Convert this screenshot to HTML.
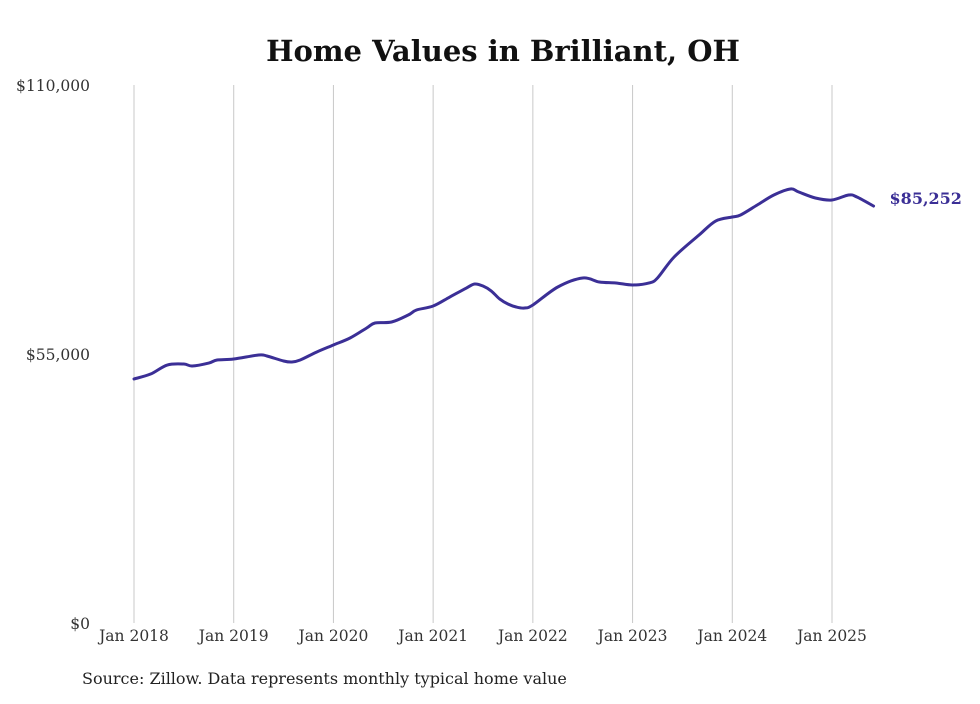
<!DOCTYPE html>
<html><head><meta charset="utf-8"><style>
body{margin:0;background:#fff;}
svg text{font-family:"DejaVu Serif","Liberation Serif",serif;}
</style></head><body>
<svg id="chart" width="980" height="699" viewBox="0 0 980 699">
<rect width="980" height="699" fill="#fff"/>
<text x="503" y="61" text-anchor="middle" font-size="29" font-weight="bold" fill="#111">Home Values in Brilliant, OH</text>
<g id="grid"></g><g id="yticks"></g><g id="xticks"></g>
<path id="line" fill="none" stroke="#3b2f96" stroke-width="3" stroke-linejoin="round" stroke-linecap="round"/>
<text id="endlabel" font-size="16" font-weight="bold" fill="#3b2f96"></text>
<text x="82" y="684" font-size="16" fill="#222">Source: Zillow. Data represents monthly typical home value</text>
</svg>
<script>
const months=[0,2,4,6,7,9,10,12,15,16,18,19,20,22,24,26,28,29,31,33,34,36,38,40,41,42,43,44,45,46,47,48,51,54,56,58,60,62,63,65,68,70,72,73,75,77,79,80,82,84,86,87,89];
const values=[49900,50900,52750,52950,52550,53150,53770,53980,54800,54590,53570,53360,53770,55410,56840,58270,60320,61340,61540,62970,64000,64810,66650,68490,69310,68900,67880,66250,65220,64610,64400,65020,68700,70540,69720,69520,69110,69520,70540,74830,79330,82190,83010,83420,85460,87510,88740,88120,86900,86490,87510,87100,85252];
const yTickValues=[0,55000,110000];
const yTickLabels=["$0","$55,000","$110,000"];
const xTickMonths=[0,12,24,36,48,60,72,84];
const xTickLabels=["Jan 2018","Jan 2019","Jan 2020","Jan 2021","Jan 2022","Jan 2023","Jan 2024","Jan 2025"];
const ns="http://www.w3.org/2000/svg";
const X=m=>134+m*(698/84);
const Y=v=>623-v/110000*538;
const grid=document.getElementById('grid'),yt=document.getElementById('yticks'),xt=document.getElementById('xticks');
xTickMonths.forEach((m,i)=>{
 const l=document.createElementNS(ns,'line');
 l.setAttribute('x1',X(m));l.setAttribute('x2',X(m));l.setAttribute('y1',85);l.setAttribute('y2',623);
 l.setAttribute('stroke','#c8c8c8');l.setAttribute('stroke-width','1');
 
 
 grid.appendChild(l);
 const t=document.createElementNS(ns,'text');
 t.setAttribute('x',X(m));t.setAttribute('y',641);t.setAttribute('text-anchor','middle');
 t.setAttribute('font-size','15.5');t.setAttribute('fill','#333');t.textContent=xTickLabels[i];
 
 
 xt.appendChild(t);
});
yTickValues.forEach((v,i)=>{
 const t=document.createElementNS(ns,'text');
 t.setAttribute('x',90);t.setAttribute('y',Y(v)+6);t.setAttribute('text-anchor','end');
 t.setAttribute('font-size','15.5');t.setAttribute('fill','#333');t.textContent=yTickLabels[i];
 
 
 yt.appendChild(t);
});
const pts=months.map((m,i)=>[X(m),Y(values[i])]);
let d='M'+pts[0][0]+','+pts[0][1];
for(let i=0;i<pts.length-1;i++){
 const p0=pts[i-1]||pts[i],p1=pts[i],p2=pts[i+1],p3=pts[i+2]||p2;
 const c1=[p1[0]+(p2[0]-p0[0])/6,p1[1]+(p2[1]-p0[1])/6];
 const c2=[p2[0]-(p3[0]-p1[0])/6,p2[1]-(p3[1]-p1[1])/6];
 d+=` C${c1[0]},${c1[1]} ${c2[0]},${c2[1]} ${p2[0]},${p2[1]}`;
}
document.getElementById('line').setAttribute('d',d);
const last=pts[pts.length-1],el=document.getElementById('endlabel');
el.setAttribute('x',last[0]+16);el.setAttribute('y',last[1]-2);
el.textContent='$'+values[values.length-1].toLocaleString('en-US');
</script>
</body></html>
